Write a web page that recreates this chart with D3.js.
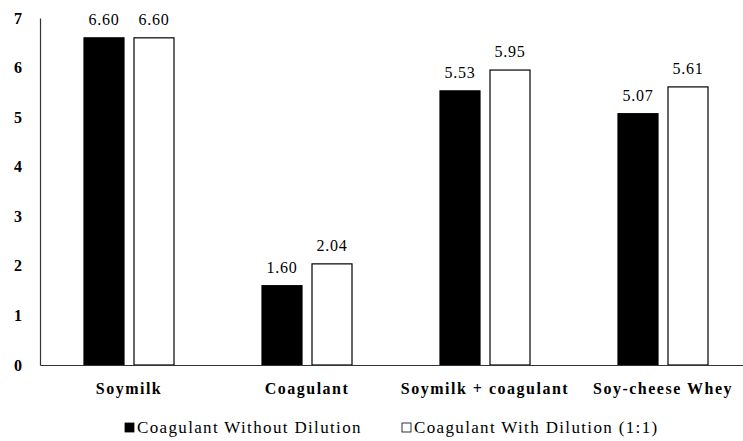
<!DOCTYPE html>
<html>
<head>
<meta charset="utf-8">
<script src="https://cdn.jsdelivr.net/npm/d3@7"></script>
<style>
body { margin: 0; background: #fff; }
</style>
</head>
<body>
<div class="canvas"></div>
<script>
// data
const categories = ['Soymilk', 'Coagulant', 'Soymilk + coagulant', 'Soy-cheese Whey'];
const seriesNames = ['Coagulant Without Dilution', 'Coagulant With Dilution (1:1)'];
const withoutDilution = [6.60, 1.60, 5.53, 5.07];
const withDilution = [6.60, 2.04, 5.95, 5.61];
const yTicks = [0, 1, 2, 3, 4, 5, 6, 7];

const FONT = 'Liberation Serif';

const width = 743, height = 441;
const margin = {top: 18, right: -9, bottom: 76, left: 40};
const graphWidth = width - margin.left - margin.right;
const graphHeight = height - margin.top - margin.bottom;

const svg = d3.select('.canvas')
  .append('svg')
  .attr('width', width)
  .attr('height', height);

const graph = svg.append('g')
  .attr('transform', `translate(${margin.left},${margin.top})`);

// scales
const x = d3.scaleBand()
  .domain(categories)
  .range([0, graphWidth]);

const y = d3.scaleLinear()
  .domain([0, 7])
  .range([graphHeight, 0]);

const rows = categories.map((c, i) => ({
  cat: c,
  vals: [withoutDilution[i], withDilution[i]]
}));

const barW = 40, gap = 10;
const fills = ['#000', '#fff'];

// bars
const groups = graph.selectAll('.grp')
  .data(rows)
  .enter()
  .append('g')
  .attr('class', 'grp')
  .attr('transform', d => `translate(${x(d.cat) + x.bandwidth() / 2},0)`);

groups.selectAll('rect')
  .data(d => d.vals)
  .enter()
  .append('rect')
  .attr('x', (d, i) => i === 0 ? -barW - gap / 2 : gap / 2)
  .attr('y', d => y(d))
  .attr('width', barW)
  .attr('height', d => graphHeight - y(d))
  .attr('fill', (d, i) => fills[i])
  .attr('stroke', '#000')
  .attr('stroke-width', 1.2);

// value labels
groups.selectAll('.val')
  .data(d => d.vals)
  .enter()
  .append('text')
  .attr('class', 'val')
  .attr('x', (d, i) => i === 0 ? -barW / 2 - gap / 2 : barW / 2 + gap / 2)
  .attr('y', d => y(d) - 13)
  .attr('text-anchor', 'middle')
  .style('font-family', FONT)
  .style('font-size', '16px')
  .style('letter-spacing', '0.7px')
  .attr('fill', '#000')
  .text(d => d.toFixed(2));

// axes
const yAxis = d3.axisLeft(y).tickValues(yTicks).tickFormat(d3.format('d')).tickSize(0).tickPadding(18);
const yAxisGroup = graph.append('g').call(yAxis);
yAxisGroup.select('.domain').attr('stroke', '#333').attr('stroke-width', 1.2);
yAxisGroup.selectAll('text')
  .style('font-family', FONT)
  .style('font-size', '16px')
  .style('font-weight', 'bold')
  .attr('fill', '#000');

const xAxis = d3.axisBottom(x).tickSize(0).tickPadding(18);
const xAxisGroup = graph.append('g')
  .attr('transform', `translate(0,${graphHeight})`)
  .call(xAxis);
xAxisGroup.select('.domain').attr('stroke', '#333').attr('stroke-width', 1.2);
xAxisGroup.selectAll('text')
  .style('font-family', FONT)
  .style('font-size', '16px')
  .style('font-weight', 'bold')
  .style('letter-spacing', '1.5px')
  .attr('fill', '#000');

// legend
const legend = svg.append('g').attr('transform', 'translate(125,428)');
const legendX = [0, 277];
seriesNames.forEach((name, i) => {
  const lg = legend.append('g').attr('transform', `translate(${legendX[i]},0)`);
  lg.append('rect')
    .attr('x', 0).attr('y', -5)
    .attr('width', 9).attr('height', 9)
    .attr('fill', fills[i])
    .attr('stroke', '#000')
    .attr('stroke-width', 0.8);
  lg.append('text')
    .attr('x', 12).attr('y', 5)
    .style('font-family', FONT)
    .style('font-size', '17px')
    .style('letter-spacing', '1.35px')
    .attr('fill', '#000')
    .text(name);
});
</script>
</body>
</html>
